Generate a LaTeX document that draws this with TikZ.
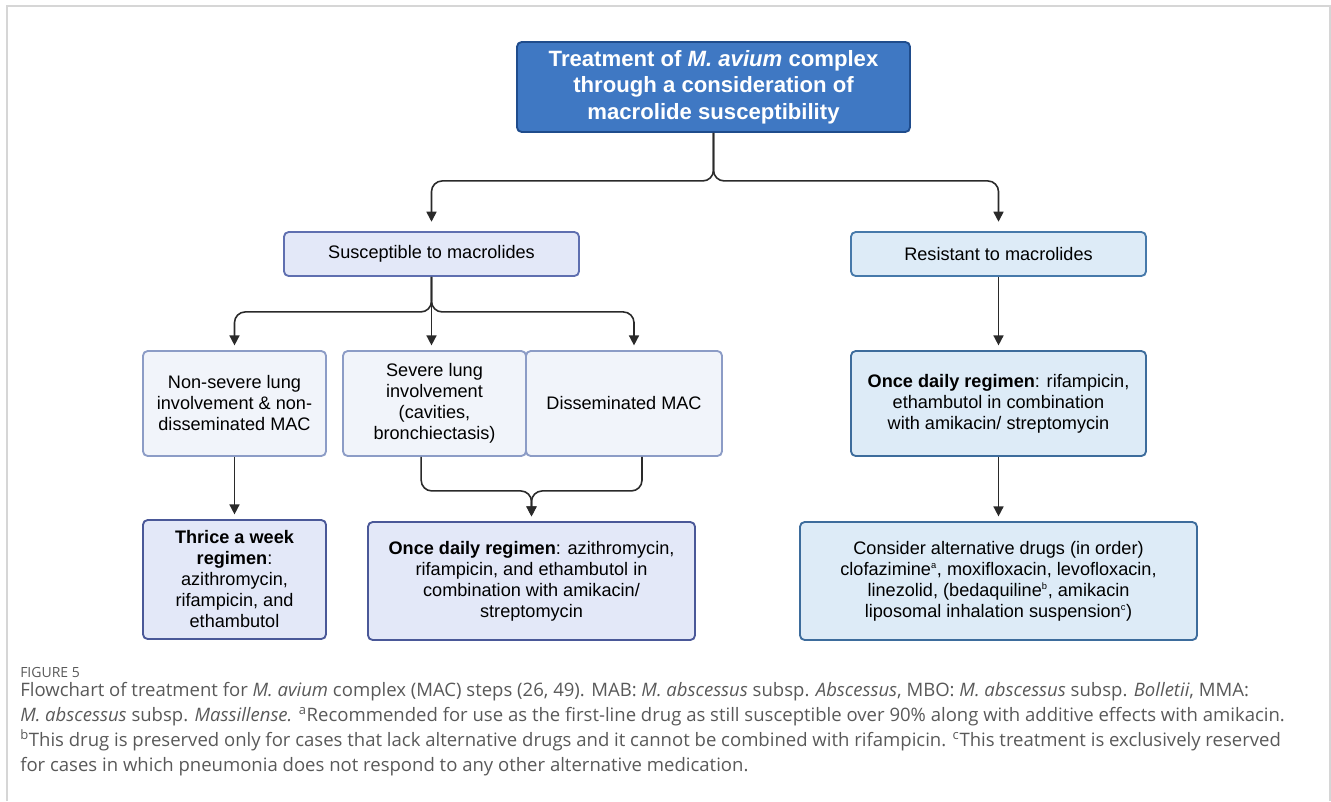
\documentclass[tikz,border=0pt]{standalone}
\usepackage{fontspec}
\setmainfont{Liberation Sans}
\newfontfamily\capfont{Open Sans}
\usepackage{xcolor}
\usetikzlibrary{arrows.meta}

\definecolor{topfill}{HTML}{3F78C3}
\definecolor{topline}{HTML}{1F4C8C}
\definecolor{lavfill}{HTML}{E3E8F8}
\definecolor{lavline}{HTML}{5F6FB0}
\definecolor{darklav}{HTML}{4A5898}
\definecolor{palefill}{HTML}{F1F4FA}
\definecolor{paleline}{HTML}{8C9CC6}
\definecolor{skyfill}{HTML}{DDEBF7}
\definecolor{skyline}{HTML}{4679AA}
\definecolor{darksky}{HTML}{3D6C9C}
\definecolor{linecol}{HTML}{2A2A2A}
\definecolor{capgray}{HTML}{595959}
\definecolor{framegray}{HTML}{D6D6D6}

\begin{document}
\begin{tikzpicture}[x=0.75pt,y=-0.75pt,
    box/.style={draw, rounded corners=3.5pt, line width=1.4pt, align=center, inner sep=0pt,
        font=\fontsize{13.6}{15.75}\selectfont},
    arr/.style={-{Triangle[length=7.5pt,width=7.5pt]}, line width=1.2pt, draw=linecol,
        rounded corners=8pt, shorten >=3.5pt}]

    % Fix page size and frame
    \useasboundingbox (0,0) rectangle (1331,801);
    \draw [framegray, line width=1pt] (7,801) -- (7,6) -- (1330,6) -- (1330,801);

    % Title box
    \node [box, fill=topfill, draw=topline, text=white, minimum width=294.75pt, minimum height=67.5pt,
        font=\fontsize{16.6}{19.8}\selectfont\bfseries] (top) at (713.5,87)
        {Treatment of \textit{M. avium} complex\\through a consideration of\\macrolide susceptibility};

    % Macrolide susceptibility
    \node [box, fill=lavfill, draw=lavline, minimum width=221.25pt, minimum height=33pt] (susc) at (431.5,254)
        {Susceptible to macrolides};
    \node [box, fill=skyfill, draw=skyline, minimum width=221.25pt, minimum height=33pt] (resist) at (998.5,254)
        {Resistant to macrolides};

    % Disease forms
    \node [box, fill=palefill, draw=paleline, minimum width=137.25pt, minimum height=78.75pt] (nonsev) at (234.5,403.5)
        {Non-severe lung\\involvement \& non-\\disseminated MAC};
    \node [box, fill=palefill, draw=paleline, minimum width=137.25pt, minimum height=78.75pt] (sev) at (434.5,403.5)
        {Severe lung\\involvement\\(cavities,\\bronchiectasis)};
    \node [box, fill=palefill, draw=paleline, minimum width=147pt, minimum height=78.75pt] (diss) at (624,403.5)
        {Disseminated MAC};
    \node [box, fill=skyfill, draw=darksky, minimum width=221.25pt, minimum height=78.75pt] (oncer) at (998.5,403.5)
        {\textbf{Once daily regimen}: rifampicin,\\ethambutol in combination\\with amikacin/ streptomycin};

    % Regimens
    \node [box, fill=lavfill, draw=darklav, minimum width=137.25pt, minimum height=89.25pt] (thrice) at (234.5,579.5)
        {\textbf{Thrice a week}\\\textbf{regimen}:\\azithromycin,\\rifampicin, and\\ethambutol};
    \node [box, fill=lavfill, draw=darklav, minimum width=245.25pt, minimum height=88.5pt] (oncem) at (531.5,581)
        {\textbf{Once daily regimen}: azithromycin,\\rifampicin, and ethambutol in\\combination with amikacin/\\streptomycin};
    \node [box, fill=skyfill, draw=darksky, minimum width=297.75pt, minimum height=88.5pt] (consider) at (998.5,581)
        {Consider alternative drugs (in order)\\clofazimine\textsuperscript{\scriptsize a}, moxifloxacin, levofloxacin,\\linezolid, (bedaquiline\textsuperscript{\scriptsize b}, amikacin\\liposomal inhalation suspension\textsuperscript{\scriptsize c})};

    % Connectors
    \draw [arr, shorten >=7pt] (top.south) -- ++(0,48) -| (susc.north);
    \draw [arr, shorten >=7pt] (top.south) -- ++(0,48) -| (resist.north);
    \draw [arr] (susc.south) -- ++(0,35) -| (nonsev.north);
    \draw [arr] (susc.south) -- (susc.south |- sev.north);
    \draw [arr] (susc.south) -- ++(0,35) -| ([xshift=7.5pt]diss.north);
    \draw [arr] (nonsev.south) -- (thrice.north);
    \draw [arr] ([xshift=-10pt]sev.south) -- ++(0,34) -| (oncem.north);
    \draw [arr] ([xshift=13.5pt]diss.south) -- ++(0,34) -| (oncem.north);
    \draw [arr] (resist.south) -- (oncer.north);
    \draw [arr] (oncer.south) -- (consider.north);

    % Caption
    \node [anchor=west, inner sep=0pt, text=capgray, font=\capfont\fontsize{10.5}{12}\selectfont] (figlabel) at (20,672) {FIGURE 5};
    \node [anchor=north west, align=left, inner sep=0pt, text=capgray,
        font=\capfont\fontsize{13.9}{18.75}\selectfont] (caption) at (20,682)
        {Flowchart of treatment for \textit{M. avium} complex (MAC) steps (26, 49). MAB: \textit{M. abscessus} subsp. \textit{Abscessus}, MBO: \textit{M. abscessus} subsp. \textit{Bolletii}, MMA:\\
        \textit{M. abscessus} subsp. \textit{Massillense.} \textsuperscript{a}Recommended for use as the first-line drug as still susceptible over 90\% along with additive effects with amikacin.\\
        \textsuperscript{b}This drug is preserved only for cases that lack alternative drugs and it cannot be combined with rifampicin. \textsuperscript{c}This treatment is exclusively reserved\\
        for cases in which pneumonia does not respond to any other alternative medication.};

\end{tikzpicture}
\end{document}
